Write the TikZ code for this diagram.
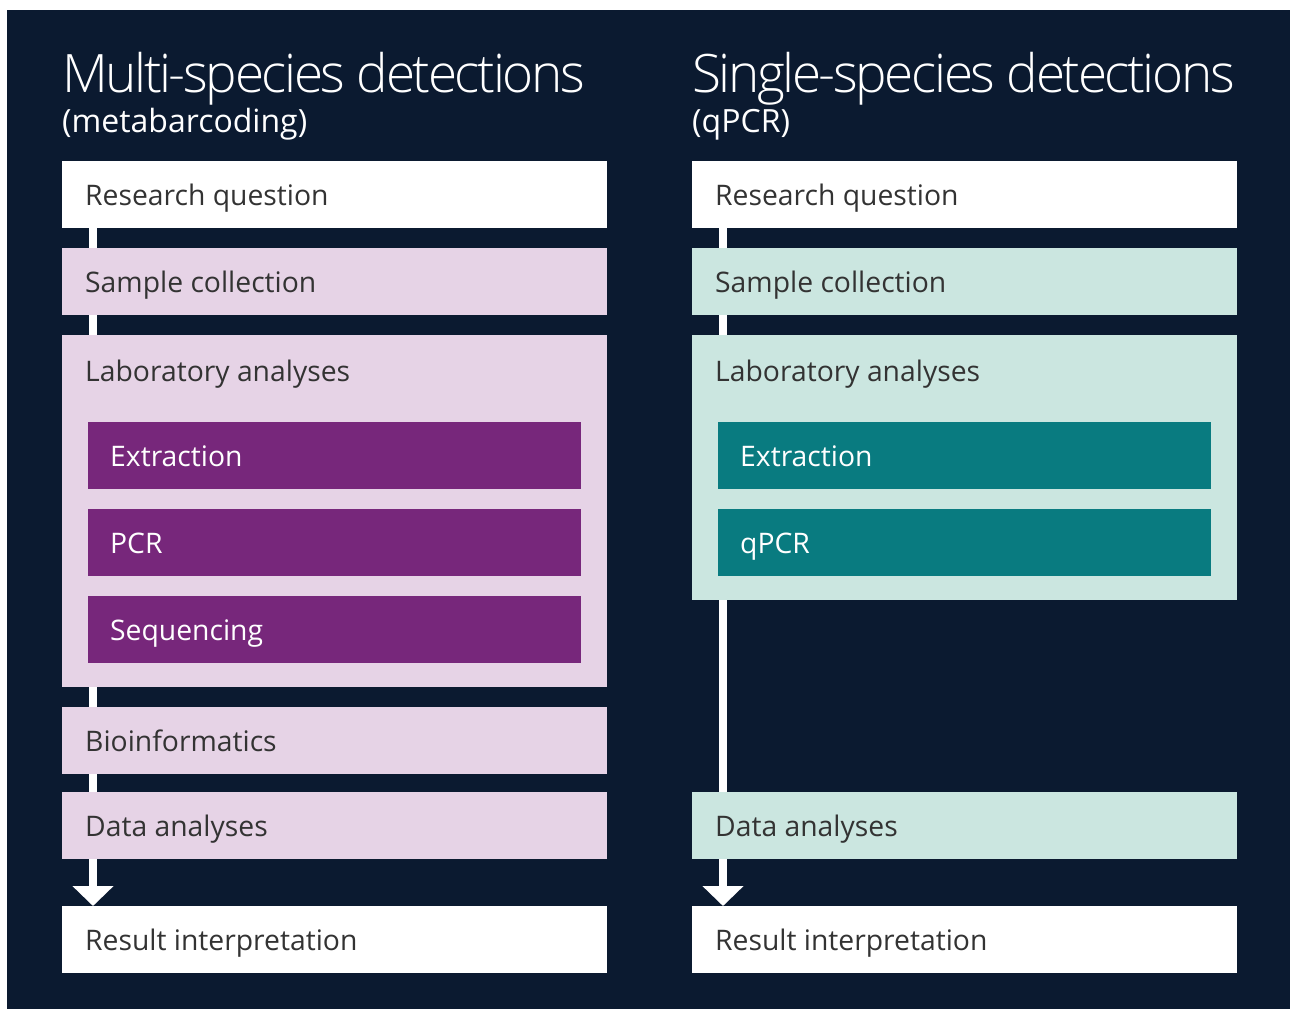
\documentclass[tikz,border=0pt]{standalone}
\usepackage{fontspec}
\setmainfont{Open Sans}
\newfontfamily\lightfont[LetterSpace=-4.5]{Open Sans Light}
\usetikzlibrary{arrows.meta}
\definecolor{bgnavy}{HTML}{0B1A30}
\definecolor{purplelight}{HTML}{E6D3E6}
\definecolor{purpledark}{HTML}{77277B}
\definecolor{teallight}{HTML}{CBE6E0}
\definecolor{tealdark}{HTML}{097B80}
\definecolor{boxtext}{HTML}{333333}
\tikzset{
  x=1pt,y=-1pt,
  stepbox/.style={rectangle, anchor=north west, minimum width=545pt, minimum height=67pt, inner sep=0pt, outer sep=0pt},
  substep/.style={rectangle, anchor=north west, minimum width=493pt, minimum height=67pt, inner sep=0pt, outer sep=0pt},
  boxlabel/.style={anchor=base west, inner sep=0pt, text=boxtext, font=\fontsize{28.3}{32}\selectfont},
  sublabel/.style={anchor=base west, inner sep=0pt, text=white, font=\fontsize{28.3}{32}\selectfont},
  titletext/.style={anchor=base west, inner sep=0pt, text=white, font=\lightfont\fontsize{53}{60}\selectfont},
  subtitletext/.style={anchor=base west, inner sep=0pt, text=white, font=\fontsize{32}{36}\selectfont},
  flowline/.style={draw=white, line width=8pt, -{Triangle[width=40pt,length=20pt]}},
}
\begin{document}
\begin{tikzpicture}
\useasboundingbox (0,0) rectangle (1290,1009);
\fill[white] (0,0) rectangle (1290,1009);
\fill[bgnavy] (7,10) rectangle (1290,1009);

% titles
\node[titletext] (t1) at (62,92) {Multi-species detections};
\node[subtitletext] (s1) at (62,132) {(metabarcoding)};
\node[titletext] (t2) at (692,92) {Single-species detections};
\node[subtitletext] (s2) at (692,132) {(qPCR)};

% left column boxes
\node[stepbox, fill=white] (lrq) at (62,161) {};
\node[stepbox, fill=purplelight] (lsc) at (62,248) {};
\node[stepbox, fill=purplelight, minimum height=352pt] (lla) at (62,335) {};
\node[stepbox, fill=purplelight] (lbi) at (62,707) {};
\node[stepbox, fill=purplelight] (lda) at (62,792) {};
\node[stepbox, fill=white] (lri) at (62,906) {};

% right column boxes
\node[stepbox, fill=white] (rrq) at (692,161) {};
\node[stepbox, fill=teallight] (rsc) at (692,248) {};
\node[stepbox, fill=teallight, minimum height=265pt] (rla) at (692,335) {};
\node[stepbox, fill=teallight] (rda) at (692,792) {};
\node[stepbox, fill=white] (rri) at (692,906) {};

% flow lines
\draw[flowline] ([xshift=31pt]lrq.south west) -- ([xshift=31pt]lri.north west);
\draw[flowline] ([xshift=31pt]rrq.south west) -- ([xshift=31pt]rri.north west);

% redraw boxes on top of lines
\fill[purplelight] (lsc.north west) rectangle (lsc.south east);
\fill[purplelight] (lla.north west) rectangle (lla.south east);
\fill[purplelight] (lbi.north west) rectangle (lbi.south east);
\fill[purplelight] (lda.north west) rectangle (lda.south east);
\fill[teallight] (rsc.north west) rectangle (rsc.south east);
\fill[teallight] (rla.north west) rectangle (rla.south east);
\fill[teallight] (rda.north west) rectangle (rda.south east);

% sub steps
\node[substep, fill=purpledark] (lex) at (88,422) {};
\node[substep, fill=purpledark] (lpcr) at (88,509) {};
\node[substep, fill=purpledark] (lseq) at (88,596) {};
\node[substep, fill=tealdark] (rex) at (718,422) {};
\node[substep, fill=tealdark] (rqpcr) at (718,509) {};

% labels left
\node[boxlabel] (llrq) at ([xshift=23pt,yshift=-11pt]lrq.west) {Research question};
\node[boxlabel] (llsc) at ([xshift=23pt,yshift=-11pt]lsc.west) {Sample collection};
\node[boxlabel] (llla) at ([xshift=23pt,yshift=-46pt]lla.north west) {Laboratory analyses};
\node[sublabel] (llex) at ([xshift=22pt,yshift=-11pt]lex.west) {Extraction};
\node[sublabel] (llpcr) at ([xshift=22pt,yshift=-11pt]lpcr.west) {PCR};
\node[sublabel] (llseq) at ([xshift=22pt,yshift=-11pt]lseq.west) {Sequencing};
\node[boxlabel] (llbi) at ([xshift=23pt,yshift=-11pt]lbi.west) {Bioinformatics};
\node[boxlabel] (llda) at ([xshift=23pt,yshift=-11pt]lda.west) {Data analyses};
\node[boxlabel] (llri) at ([xshift=23pt,yshift=-11pt]lri.west) {Result interpretation};

% labels right
\node[boxlabel] (rlrq) at ([xshift=23pt,yshift=-11pt]rrq.west) {Research question};
\node[boxlabel] (rlsc) at ([xshift=23pt,yshift=-11pt]rsc.west) {Sample collection};
\node[boxlabel] (rlla) at ([xshift=23pt,yshift=-46pt]rla.north west) {Laboratory analyses};
\node[sublabel] (rlex) at ([xshift=22pt,yshift=-11pt]rex.west) {Extraction};
\node[sublabel] (rlqpcr) at ([xshift=22pt,yshift=-11pt]rqpcr.west) {qPCR};
\node[boxlabel] (rlda) at ([xshift=23pt,yshift=-11pt]rda.west) {Data analyses};
\node[boxlabel] (rlri) at ([xshift=23pt,yshift=-11pt]rri.west) {Result interpretation};
\end{tikzpicture}
\end{document}
